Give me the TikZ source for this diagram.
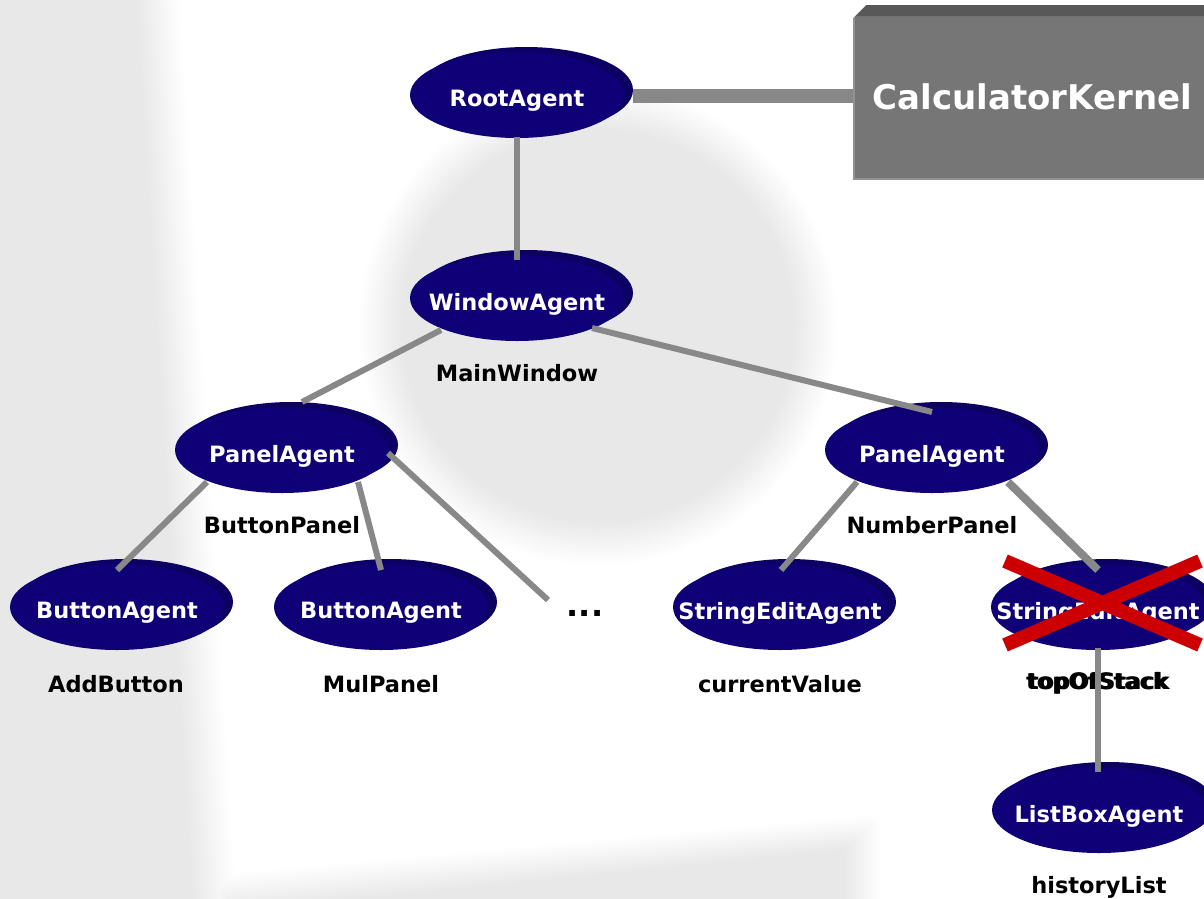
\documentclass[tikz,border=0pt]{standalone}
\usepackage{fontspec}
\setmainfont{DejaVu Sans}
\usetikzlibrary{shapes.geometric,shadows,calc}
\definecolor{bgc}{RGB}{232,232,232}
\definecolor{agentfill}{RGB}{16,0,120}
\definecolor{agentrim}{RGB}{12,0,98}
\definecolor{linkgray}{RGB}{136,136,136}
\definecolor{crossred}{RGB}{204,0,0}
\definecolor{kface}{RGB}{118,118,118}
\definecolor{ktop}{RGB}{88,88,88}
\definecolor{kedge}{RGB}{145,145,145}

\begin{document}
\begin{tikzpicture}[x=1pt,y=-1pt,
  agent/.style={ellipse, minimum width=214pt, minimum height=86pt, inner sep=0pt,
    fill=agentfill, general shadow={fill=agentrim, shadow xshift=9pt, shadow yshift=5pt}},
  agenttext/.style={text=white, font=\fontsize{22.5}{26}\selectfont\bfseries, yshift=-6pt},
  caption/.style={text=black, font=\fontsize{22.5}{26}\selectfont\bfseries, inner sep=0pt},
  link/.style={draw=linkgray, line width=6pt},
  cross/.style={draw=crossred, line width=14pt},
  haze/.style={blend mode=darken},
  kernelbox/.style={fill=kface, draw=kedge, line width=1.5pt, inner sep=0pt,
    minimum width=357pt, minimum height=173pt, anchor=north west},
  kerneltext/.style={text=white, font=\fontsize{34}{38}\selectfont\bfseries, yshift=-5pt},
]
\useasboundingbox (0,0) rectangle (1204,898);
\clip (0,0) rectangle (1204,898);
\fill[white] (0,0) rectangle (1204,898);

% soft grey backdrop: left band, central disc, bottom strip
\begin{scope}[haze]
\foreach \i in {0,...,44}{
  \pgfmathsetmacro\o{22-\i}
  \pgfmathtruncatemacro\p{\i*100/44}
  \fill[bgc!\p!white, haze] (-5,-5) -- (158+\o,-5) -- (215+\o,905) -- (-5,905) -- cycle;
}
\foreach \i in {0,...,44}{
  \pgfmathsetmacro\o{22-\i}
  \pgfmathtruncatemacro\p{\i*100/44}
  \fill[bgc!\p!white, haze] (598,326) circle[radius=218+\o];
}
\foreach \i in {0,...,36}{
  \pgfmathsetmacro\o{18-\i}
  \pgfmathtruncatemacro\p{\i*100/36}
  \fill[bgc!\p!white, haze] (222-\o,910) -- (222-\o,893-\o) -- (862+\o,832-\o) -- (862+\o,910) -- cycle;
}
\end{scope}

% kernel block with bevelled top edge
\node[kernelbox, label={[kerneltext]center:CalculatorKernel}] (kernel) at (853,5) {};
\fill[ktop] (853,18) -- (866,5) -- (1210,5) -- (1210,16) -- (853,16) -- cycle;
\fill[white] (852,3) -- (866,3) -- (866,5) -- (853,18) -- (852,18) -- cycle;

% agents
\node[agent, label={[agenttext]center:RootAgent}] (root) at (517,95) {};
\node[agent, label={[agenttext]center:WindowAgent}] (win) at (517,298) {};
\node[agent, label={[agenttext]center:PanelAgent}] (lp) at (282,450) {};
\node[agent, label={[agenttext]center:PanelAgent}] (rp) at (932,450) {};
\node[agent, label={[agenttext]center:ButtonAgent}] (b1) at (117,607) {};
\node[agent, label={[agenttext]center:ButtonAgent}] (b2) at (381,607) {};
\node[agent, label={[agenttext]center:StringEditAgent}] (se) at (780,607) {};
\node[agent, label={[agenttext]center:StringEditAgent}] (se2) at (1098,607) {};
\node[agent, label={[agenttext]center:ListBoxAgent}] (lb) at (1099,810) {};

% instance names
\node[caption] (c-win) at (517,373) {MainWindow};
\node[caption] (c-lp) at (282,525) {ButtonPanel};
\node[caption] (c-rp) at (932,525) {NumberPanel};
\node[caption] (c-b1) at (116,684) {AddButton};
\node[caption] (c-b2) at (381,684) {MulPanel};
\node[caption] (c-se) at (780,684) {currentValue};
\node[caption] (c-se2a) at (1097,683) {topOfStack};
\node[caption] (c-se2b) at (1099,683) {topOfStack};
\node[caption] (c-lb) at (1099,887) {historyList};
\node[caption, font=\fontsize{32}{32}\selectfont\bfseries] (dots) at (585,613) {...};

% removed agent
\draw[cross] ($(se2)+(-93,-46)$) -- ($(se2)+(102,38)$);
\draw[cross] ($(se2)+(102,-46)$) -- ($(se2)+(-93,38)$);

% connectors
\coordinate (rk) at ($(root.east)+(9,1)$);
\draw[link, line width=14pt] (rk) -- (rk -| kernel.west);
\draw[link] ($(root)+(0,42)$) -- ($(win)+(0,-38)$);
\draw[link] ($(win)+(-76,32)$) -- ($(lp)+(20,-48)$);
\draw[link] ($(win)+(75,30)$) -- ($(rp)+(0,-38)$);
\draw[link] ($(lp)+(-75,32)$) -- ($(b1)+(0,-37)$);
\draw[link] ($(lp)+(76,32)$) -- ($(b2)+(0,-37)$);
\draw[link] ($(lp)+(106,3)$) -- ($(dots)+(-37,-13)$);
\draw[link] ($(rp)+(-75,32)$) -- ($(se)+(1,-37)$);
\draw[link, line width=8pt] ($(rp)+(76,32)$) -- ($(se2)+(0,-37)$);
\draw[link] ($(se2)+(0,41)$) -- ($(lb)+(-1,-38)$);
\end{tikzpicture}
\end{document}
